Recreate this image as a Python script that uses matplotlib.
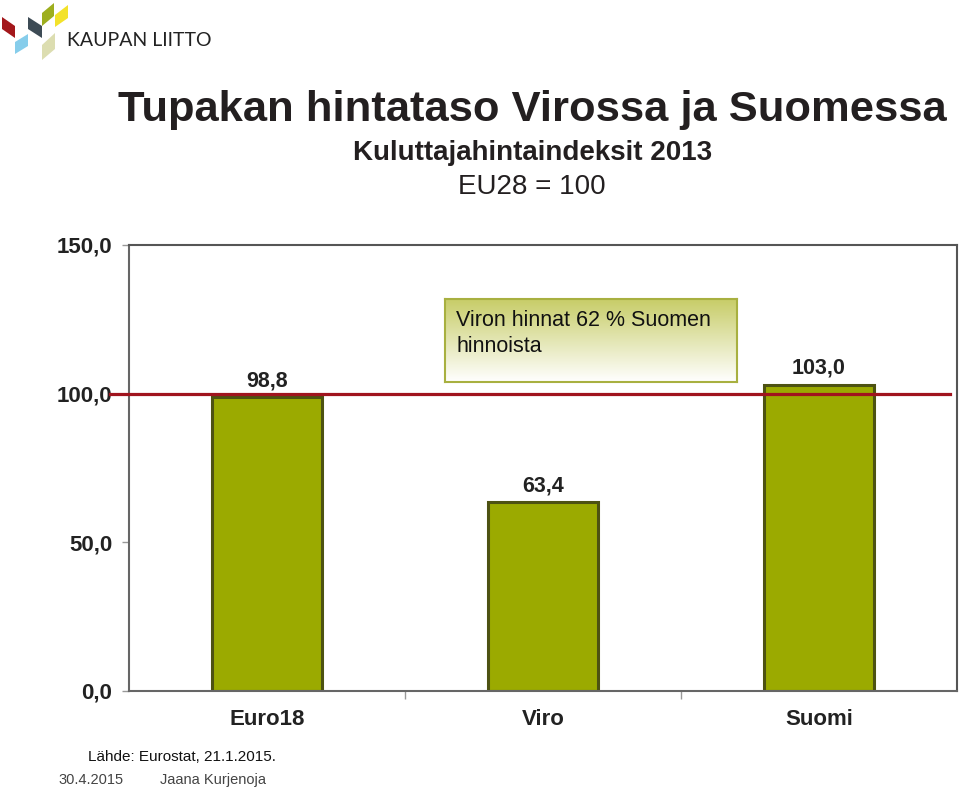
import matplotlib
matplotlib.use("Agg")
import matplotlib.pyplot as plt
import numpy as np
from matplotlib.patches import Polygon

plt.rcParams['font.family'] = ['Liberation Sans', 'DejaVu Sans']

categories = ["Euro18", "Viro", "Suomi"]
values = [98.8, 63.4, 103.0]
value_labels = ["98,8", "63,4", "103,0"]
yticks = [0, 50, 100, 150]
ytick_labels = ["0,0", "50,0", "100,0", "150,0"]
reference_level = 100.0

title = "Tupakan hintataso Virossa ja Suomessa"
subtitle = "Kuluttajahintaindeksit 2013"
subtitle2 = "EU28 = 100"
note = "Viron hinnat 62 % Suomen\nhinnoista"
source = "Lähde: Eurostat, 21.1.2015."
footer_date = "30.4.2015"
footer_author = "Jaana Kurjenoja"

W, H = 960, 788
fig = plt.figure(figsize=(W / 100, H / 100), dpi=100)
fig.patch.set_facecolor("white")

def fx(px):
    return px / W

def fy(py):
    return 1 - py / H

# main axes
ax = fig.add_axes([fx(129), fy(691), fx(957) - fx(129), fy(245) - fy(691)])
x = np.arange(len(categories))
ax.bar(x, values, width=0.4, color="#9BAA00", edgecolor="#4D5212", linewidth=2.2, zorder=2)
ax.set_xlim(-0.5, len(categories) - 0.5)
ax.set_ylim(0, 150)
ax.set_yticks(yticks)
ax.set_yticklabels(ytick_labels, fontsize=16, fontweight="bold", color="#222222")
ax.tick_params(axis="y", length=5, width=1, color="#999999", pad=7)

ax.set_xticks(x)
ax.set_xticklabels(categories, fontsize=16, fontweight="bold", color="#222222")
ax.tick_params(axis="x", which="major", length=0, pad=13)
ax.set_xticks(np.arange(0.5, len(categories) - 0.5, 1), minor=True)
ax.tick_params(axis="x", which="minor", length=6, width=1, color="#999999")

for s in ["left", "bottom"]:
    ax.spines[s].set_color("#666666")
    ax.spines[s].set_linewidth(1.5)
for s in ["top", "right"]:
    ax.spines[s].set_color("#555555")
    ax.spines[s].set_linewidth(1.5)

ax.axhline(reference_level, xmin=-0.023, xmax=0.9915, color="#A0141E", linewidth=2.3,
           clip_on=False, zorder=3)

for xi, v, lab in zip(x, values, value_labels):
    ax.annotate(lab, (xi, v), xytext=(0, 12), textcoords="offset points",
                ha="center", va="center", fontsize=15.5, fontweight="bold", color="#222222")

# gradient note box
bax = fig.add_axes([fx(445), fy(382), fx(737) - fx(445), fy(299) - fy(382)])
grad = np.linspace(0, 1, 256).reshape(-1, 1)
top = np.array([0.78, 0.80, 0.40])
bot = np.array([1.0, 1.0, 1.0])
img = top[None, None, :] * (1 - grad[:, :, None]) + bot[None, None, :] * grad[:, :, None]
bax.imshow(img, aspect="auto", extent=[0, 1, 0, 1], origin="upper")
bax.set_xticks([])
bax.set_yticks([])
for s in bax.spines.values():
    s.set_color("#A8B040")
    s.set_linewidth(1.5)
fig.text(fx(456), fy(310), note, ha="left", va="top", fontsize=15.5, color="#111111",
         linespacing=1.32)

# titles
fig.text(fx(532), fy(110), title, ha="center", va="center", fontsize=31.3, fontweight="bold",
         color="#231F20")
fig.text(fx(533), fy(153), subtitle, ha="center", va="center", fontsize=20, fontweight="bold",
         color="#231F20")
fig.text(fx(532), fy(187), subtitle2, ha="center", va="center", fontsize=20, color="#231F20")

# source and footer
fig.text(fx(88), fy(757), source, ha="left", va="center", fontsize=11, color="#111111")
fig.text(fx(58), fy(780), footer_date, ha="left", va="center", fontsize=10.5, color="#444444")
fig.text(fx(160), fy(780), footer_author, ha="left", va="center", fontsize=10.5, color="#444444")

# logo
logo_shapes = [
    ([(2, 17), (15, 26), (15, 38), (2, 29)], "#A3171B"),
    ([(15, 42), (15, 54), (28, 46), (28, 34)], "#86CDEB"),
    ([(28, 17), (42, 26), (42, 38), (28, 29)], "#3D4B55"),
    ([(42, 13), (42, 26), (54, 16), (54, 3)], "#9DAE1E"),
    ([(55, 15), (55, 27), (68, 18), (68, 5)], "#F3E22A"),
    ([(42, 45), (42, 60), (55, 49), (55, 33)], "#DCDDB0"),
]
for pts, col in logo_shapes:
    fig.patches.append(Polygon([(fx(px), fy(py)) for px, py in pts], closed=True,
                               transform=fig.transFigure, facecolor=col, edgecolor="none"))
fig.text(fx(67), fy(41), "KAUPAN LIITTO", ha="left", va="center", fontsize=14,
         family=["Lato", "DejaVu Sans"], color="#222222")

fig.savefig("out.png", dpi=100)
